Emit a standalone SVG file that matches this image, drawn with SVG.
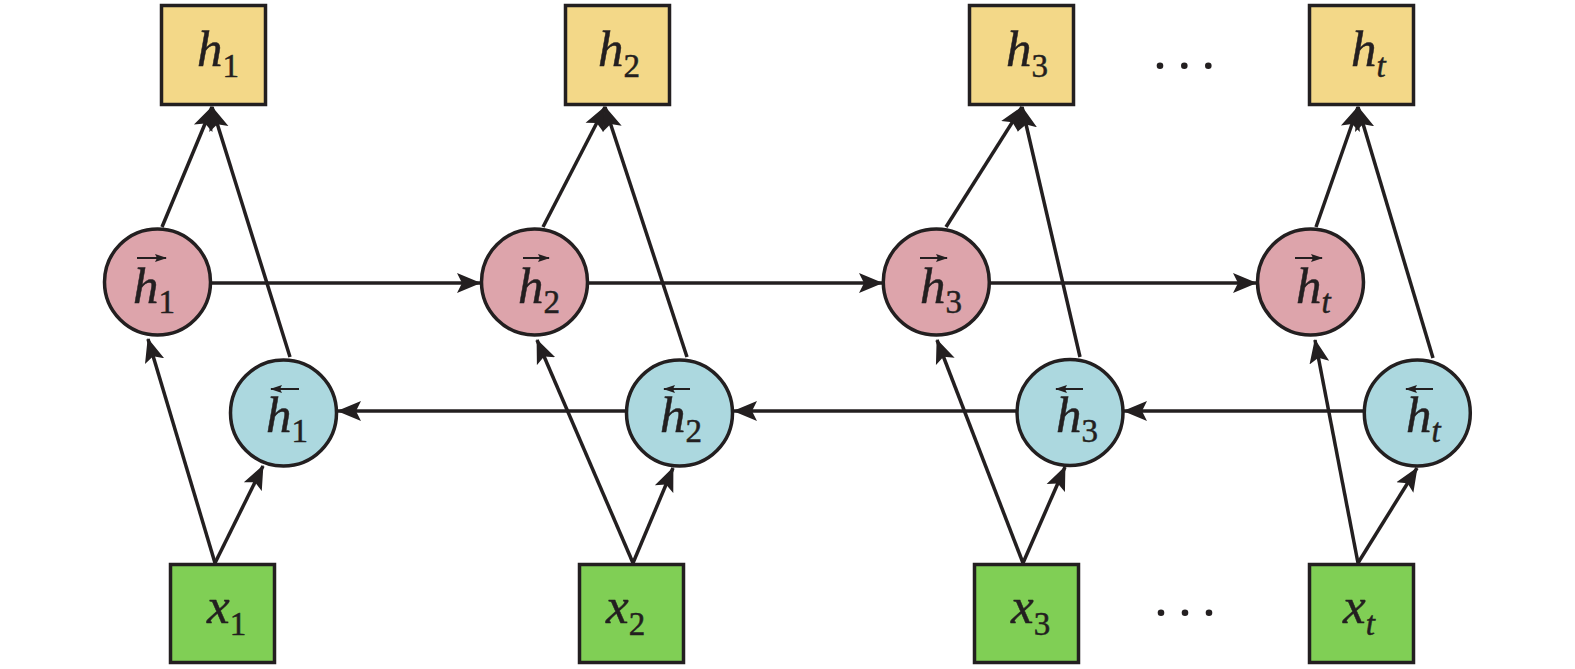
<svg xmlns="http://www.w3.org/2000/svg" width="1575" height="669" viewBox="0 0 1575 669">
<defs>
<marker id="ah" markerWidth="26" markerHeight="22" refX="23" refY="11" orient="auto" markerUnits="userSpaceOnUse" viewBox="0 0 26 22"><path d="M24,11 L0,1 L5,11 L0,21 Z" fill="#231f20"/></marker>
<marker id="va" markerWidth="12" markerHeight="8" refX="11" refY="4" orient="auto" markerUnits="userSpaceOnUse" viewBox="0 0 12 8"><path d="M12,4 L0,0 L2,4 L0,8 Z" fill="#231f20"/></marker>
<style>
.out{fill:#f3d888;stroke:#231f20;stroke-width:3.5}
.inp{fill:#80cf55;stroke:#231f20;stroke-width:3.5}
.fw{fill:#dda4ab;stroke:#231f20;stroke-width:3.5}
.bw{fill:#acd8df;stroke:#231f20;stroke-width:3.5}
text{font-family:'Liberation Serif','Times New Roman',Times,serif}
.lbl{font-size:51px;fill:#231f20;font-style:italic;stroke:#231f20;stroke-width:0.5}
.sub{font-size:33px;font-style:normal}
.subi{font-size:33px;font-style:italic}
.vec{stroke:#231f20;stroke-width:2;fill:none;marker-end:url(#va)}
.cn line{stroke:#231f20;stroke-width:3.5;marker-end:url(#ah)}
.dot{fill:#231f20}
</style>
</defs>
<rect width="1575" height="669" fill="#ffffff"/>
<g id="connectors" class="cn">
<line x1="215" y1="563" x2="148" y2="339"/>
<line x1="215" y1="563" x2="263" y2="466"/>
<line x1="162" y1="227" x2="212" y2="107"/>
<line x1="290" y1="357" x2="212" y2="107"/>
<line x1="633" y1="563" x2="537" y2="340"/>
<line x1="633" y1="563" x2="673" y2="468"/>
<line x1="543" y1="227" x2="605" y2="107"/>
<line x1="687" y1="357" x2="605" y2="107"/>
<line x1="1023" y1="563" x2="937" y2="340"/>
<line x1="1023" y1="563" x2="1065" y2="467"/>
<line x1="946" y1="227" x2="1022" y2="107"/>
<line x1="1080" y1="357" x2="1022" y2="107"/>
<line x1="1358" y1="563" x2="1315" y2="340"/>
<line x1="1358" y1="563" x2="1417" y2="468"/>
<line x1="1316" y1="227" x2="1358" y2="107"/>
<line x1="1433" y1="358" x2="1358" y2="107"/>
<line x1="211" y1="283" x2="480" y2="283"/>
<line x1="588" y1="283" x2="882" y2="283"/>
<line x1="990" y1="283" x2="1256" y2="283"/>
<line x1="626" y1="411" x2="338" y2="411"/>
<line x1="1017" y1="411" x2="734" y2="411"/>
<line x1="1364" y1="411" x2="1124" y2="411"/>
</g>
<g id="h1"><rect class="out" x="161.5" y="5.5" width="104" height="99"/><text class="lbl" x="197" y="66">h<tspan class="sub" dy="11">1</tspan></text></g>
<g id="h2"><rect class="out" x="565.5" y="5.5" width="104" height="99"/><text class="lbl" x="598" y="66">h<tspan class="sub" dy="11">2</tspan></text></g>
<g id="h3"><rect class="out" x="969.5" y="5.5" width="104" height="99"/><text class="lbl" x="1006" y="66">h<tspan class="sub" dy="11">3</tspan></text></g>
<g id="ht"><rect class="out" x="1309.5" y="5.5" width="104" height="99"/><text class="lbl" x="1351" y="66">h<tspan class="subi" dy="11">t</tspan></text></g>
<g id="dots-top"><circle class="dot" cx="1160" cy="65.7" r="3.3"/><circle class="dot" cx="1184.3" cy="65.7" r="3.3"/><circle class="dot" cx="1208.3" cy="65.7" r="3.3"/></g>
<g id="f1"><circle class="fw" cx="157.5" cy="282" r="53"/><text class="lbl" x="133" y="303">h<tspan class="sub" dy="10">1</tspan></text><line class="vec" x1="137" y1="258" x2="166" y2="258"/></g>
<g id="f2"><circle class="fw" cx="534.5" cy="282" r="53"/><text class="lbl" x="518" y="303">h<tspan class="sub" dy="10">2</tspan></text><line class="vec" x1="523" y1="258" x2="549" y2="258"/></g>
<g id="f3"><circle class="fw" cx="936.3" cy="282" r="53"/><text class="lbl" x="920" y="303">h<tspan class="sub" dy="10">3</tspan></text><line class="vec" x1="920" y1="258" x2="947" y2="258"/></g>
<g id="ft"><circle class="fw" cx="1310.5" cy="282" r="53"/><text class="lbl" x="1296" y="303">h<tspan class="subi" dy="10">t</tspan></text><line class="vec" x1="1295" y1="258" x2="1322" y2="258"/></g>
<g id="b1"><circle class="bw" cx="283.5" cy="413" r="53"/><text class="lbl" x="266" y="432">h<tspan class="sub" dy="10">1</tspan></text><line class="vec" x1="299" y1="389" x2="271" y2="389"/></g>
<g id="b2"><circle class="bw" cx="679.5" cy="413" r="53"/><text class="lbl" x="660" y="432">h<tspan class="sub" dy="10">2</tspan></text><line class="vec" x1="690" y1="389" x2="664" y2="389"/></g>
<g id="b3"><circle class="bw" cx="1070" cy="412.5" r="53"/><text class="lbl" x="1056" y="432">h<tspan class="sub" dy="10">3</tspan></text><line class="vec" x1="1083" y1="389" x2="1056" y2="389"/></g>
<g id="bt"><circle class="bw" cx="1417.3" cy="413" r="53"/><text class="lbl" x="1406" y="432">h<tspan class="subi" dy="10">t</tspan></text><line class="vec" x1="1433" y1="389" x2="1406" y2="389"/></g>
<g id="x1"><rect class="inp" x="170.5" y="564.5" width="104" height="98"/><text class="lbl" x="207" y="623">x<tspan class="sub" dy="12">1</tspan></text></g>
<g id="x2"><rect class="inp" x="579.5" y="564.5" width="104" height="98"/><text class="lbl" x="606" y="623">x<tspan class="sub" dy="12">2</tspan></text></g>
<g id="x3"><rect class="inp" x="974.5" y="564.5" width="104" height="98"/><text class="lbl" x="1011" y="623">x<tspan class="sub" dy="12">3</tspan></text></g>
<g id="xt"><rect class="inp" x="1309.5" y="564.5" width="104" height="98"/><text class="lbl" x="1343" y="623">x<tspan class="subi" dy="12">t</tspan></text></g>
<g id="dots-bottom"><circle class="dot" cx="1161" cy="612.7" r="3.3"/><circle class="dot" cx="1185" cy="612.7" r="3.3"/><circle class="dot" cx="1209" cy="612.7" r="3.3"/></g>
</svg>
